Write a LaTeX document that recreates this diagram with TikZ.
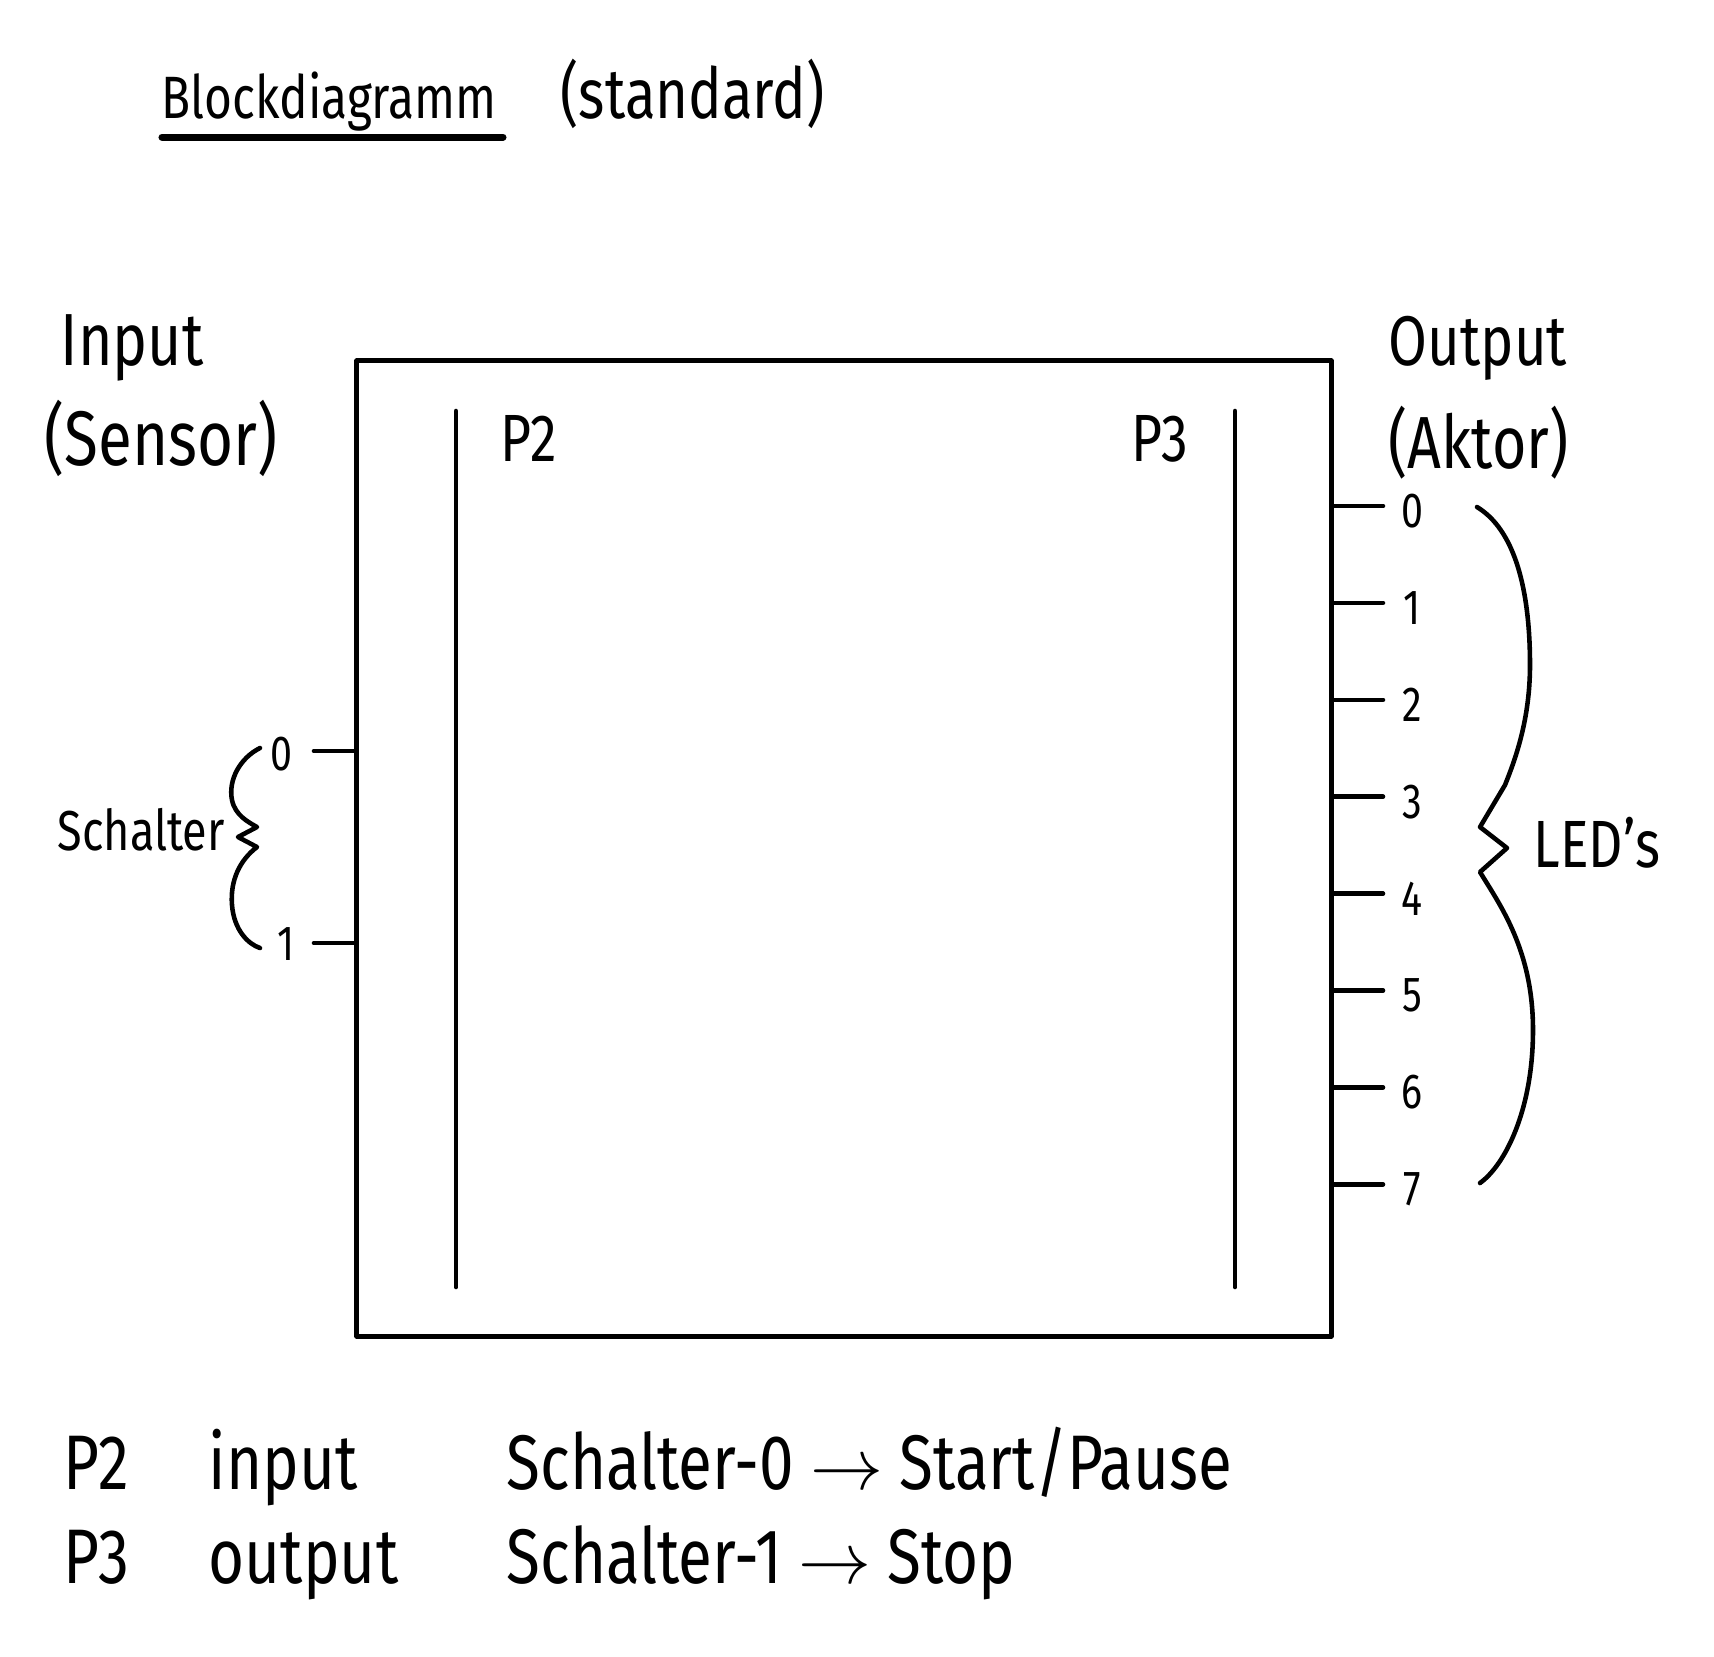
\documentclass[tikz,border=0pt]{standalone}
\usepackage{fontspec}
\setmainfont{Fira Sans}[FakeStretch=0.8]
\usepackage{tikz}

\begin{document}
\begin{tikzpicture}[x=0.01cm, y=-0.01cm,
    hand/.style={line width=1.3pt, line cap=round, line join=round},
    pin/.style={hand},
    pinnum/.style={font=\fontsize{14}{16}\selectfont, inner sep=1pt},
    txt/.style={anchor=base west, inner sep=0pt}]
    % Fix page size to the sketch (1714 x 1656 px)
    \useasboundingbox (0,0) rectangle (1714,1656);

    % Title
    \node[txt, font=\fontsize{17}{20}\selectfont] (title) at (161,118) {Blockdiagramm};
    \node[txt, font=\fontsize{20}{24}\selectfont] (std) at (560,118) {(standard)};
    \draw[line width=2pt, line cap=round] (162,137) -- (503,137);% underline

    % Controller block
    \node[draw, hand, minimum width=9.74cm, minimum height=9.75cm, inner sep=0pt] (mcu) at (844,848.5) {};
    \draw[hand] (456,411) -- (456,1287);% port P2
    \draw[hand] (1235,411) -- (1235,1287);% port P3
    \node[txt, font=\fontsize{19}{22}\selectfont] (p2) at (500,461) {P2};
    \node[txt, font=\fontsize{19}{22}\selectfont] (p3) at (1131,461) {P3};

    % Side headings
    \node[txt, font=\fontsize{21}{24}\selectfont] (inp) at (60,365) {Input};
    \node[txt, font=\fontsize{22}{26}\selectfont] (sens) at (44,465) {(Sensor)};
    \node[txt, font=\fontsize{20}{24}\selectfont] (outp) at (1388,365) {Output};
    \node[txt, font=\fontsize{21}{24}\selectfont] (akt) at (1388,468) {(Aktor)};

    % Inputs: two switches on P2
    \coordinate (in0) at (314,751);
    \coordinate (in1) at (314,943);
    \draw[pin] (mcu.west |- in0) -- (in0);
    \draw[pin] (mcu.west |- in1) -- (in1);
    \node[pinnum] (i0) at (281,754) {0};
    \node[pinnum] (i1) at (286,944) {1};
    \draw[hand] (260,748) .. controls (240,758) and (228,780) .. (232,800)
        .. controls (235,815) and (248,822) .. (257,827) -- (238,837) -- (257,847)
        .. controls (240,860) and (230,880) .. (232,905)
        .. controls (234,930) and (248,944) .. (260,948);
    \node[txt, font=\fontsize{16}{19}\selectfont] (sw) at (57,850) {Schalter};

    % Outputs: eight LEDs on P3
    \foreach \i in {0,...,7} {
        \coordinate (o\i) at (1383,{506+96.9*\i});
        \draw[pin] (mcu.east |- o\i) -- (o\i);
        \node[pinnum] (n\i) at (1412,{511+96.9*\i}) {\i};
    }
    \draw[hand] (1477,507) .. controls (1515,530) and (1530,590) .. (1530,665)
        .. controls (1530,720) and (1515,760) .. (1505,785)
        -- (1480,827) -- (1507,848) -- (1480,872)
        .. controls (1500,905) and (1533,950) .. (1533,1030)
        .. controls (1533,1110) and (1505,1165) .. (1480,1183);
    \node[txt, font=\fontsize{19}{22}\selectfont] (leds) at (1533,867) {LED's};

    % Legend
    \node[txt, font=\fontsize{22}{26}\selectfont] (l2) at (63,1489) {P2};
    \node[txt, font=\fontsize{22}{26}\selectfont] (l2t) at (208,1489) {input};
    \node[txt, font=\fontsize{22}{26}\selectfont] (s0) at (506,1489) {Schalter-0 $\rightarrow$ Start/Pause};
    \node[txt, font=\fontsize{22}{26}\selectfont] (l3) at (63,1583) {P3};
    \node[txt, font=\fontsize{22}{26}\selectfont] (l3t) at (208,1583) {output};
    \node[txt, font=\fontsize{22}{26}\selectfont] (s1) at (506,1583) {Schalter-1 $\rightarrow$ Stop};
\end{tikzpicture}
\end{document}
